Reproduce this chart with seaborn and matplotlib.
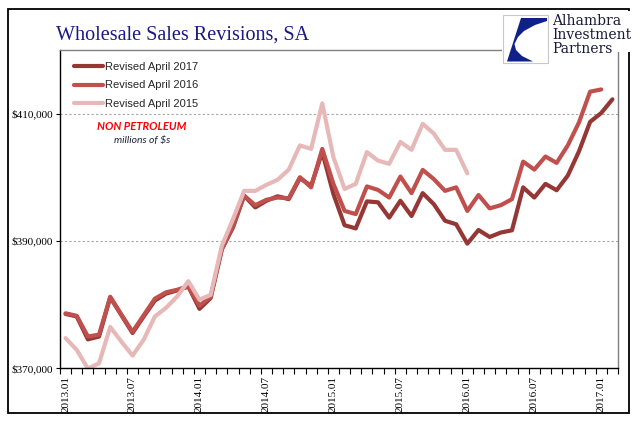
import pandas as pd
import matplotlib
matplotlib.use("Agg")
import matplotlib.pyplot as plt
import seaborn as sns
from matplotlib.patches import Rectangle, Polygon
from matplotlib.ticker import FuncFormatter

# -------------------------------
# data (millions of $, non petroleum)
# -------------------------------
months = [f"{y}.{m:02d}" for y in range(2013, 2018) for m in range(1, 13)][:50]

rev_2017 = [378500, 378100, 374500, 374950, 381100, 378300, 375500, 378100, 380600, 381700,
            382200, 382800, 379300, 381000, 388650, 392100, 397100, 395250, 396300, 397000,
            396550, 399850, 398650, 403950, 397350, 392450, 391950, 396200, 396050, 393650,
            396300, 393900, 397500, 395750, 393150, 392600, 389550, 391700, 390600, 391300,
            391650, 398400, 396800, 398950, 397950, 400250, 404050, 408700, 410100, 412250]

rev_2016 = [378600, 378200, 374950, 375250, 381200, 378400, 375700, 378300, 380900, 381900,
            382300, 382850, 379800, 381200, 388700, 392350, 397100, 395600, 396450, 396800,
            396700, 400000, 398400, 404450, 398950, 394700, 394200, 398550, 398000, 396800,
            400100, 397500, 401150, 399700, 397850, 398400, 394700, 397200, 395100, 395600,
            396550, 402450, 401200, 403250, 402250, 405000, 408600, 413450, 413800, None]

rev_2015 = [374700, 372850, 369900, 370750, 376450, 374150, 371950, 374450, 378100, 379450,
            381250, 383650, 380750, 381500, 389200, 393400, 397850, 397850, 398800, 399600,
            401200, 405000, 404450, 411600, 403150, 398150, 398950, 403950, 402600, 402100,
            405550, 404300, 408400, 406850, 404300, 404300, 400600] + [None] * 13

series_names = ["Revised April 2017", "Revised April 2016", "Revised April 2015"]
colors = ["#953735", "#C0504D", "#E6B9B8"]

tick_labels = ["2013.01", "2013.07", "2014.01", "2014.07", "2015.01",
               "2015.07", "2016.01", "2016.07", "2017.01"]

df = pd.DataFrame({"month": months,
                   series_names[0]: rev_2017,
                   series_names[1]: rev_2016,
                   series_names[2]: rev_2015})
long = df.melt(id_vars="month", var_name="series", value_name="sales").dropna()
long["pos"] = long["month"].map({m: i for i, m in enumerate(months)})
long["sales"] = long["sales"].astype(float)

sns.set_style("white")
plt.rcParams["font.family"] = ["Liberation Serif", "DejaVu Serif"]

W, H = 641, 421
fig = plt.figure(figsize=(W / 100, H / 100), dpi=100)
ax = fig.add_axes([60 / W, 1 - 368 / H, 558 / W, 318 / H])

sns.lineplot(data=long, x="pos", y="sales", hue="series", hue_order=series_names,
             palette=colors, linewidth=3, errorbar=None, ax=ax,
             solid_capstyle="round", solid_joinstyle="round")

ax.set_xlim(-0.5, 49.5)
ax.set_ylim(370000, 420000)
ax.set_xlabel("")
ax.set_ylabel("")

# y axis
ax.set_yticks([370000, 390000, 410000])
ax.yaxis.set_major_formatter(FuncFormatter(lambda v, p: f"${v:,.0f}"))
ax.tick_params(axis="y", direction="out", length=3, width=0.8, pad=2,
               labelsize=8, colors="black", left=True)
ax.yaxis.grid(True, linestyle=(0, (2, 2)), color="#a6a6a6", linewidth=0.8)
ax.xaxis.grid(False)

# x axis: labels at every 6th month, ticks between categories
ax.set_xticks([months.index(t) for t in tick_labels])
ax.set_xticklabels(tick_labels, rotation=90)
ax.set_xticks([i - 0.5 for i in range(51)], minor=True)
ax.tick_params(axis="x", which="major", length=0, pad=6, labelsize=8, colors="black")
ax.tick_params(axis="x", which="minor", direction="out", length=4, width=0.8,
               color="black", bottom=True)

for s in ["left", "bottom"]:
    ax.spines[s].set_color("black")
    ax.spines[s].set_linewidth(1)
for s in ["top", "right"]:
    ax.spines[s].set_color("#808080")
    ax.spines[s].set_linewidth(1)

handles, labels = ax.get_legend_handles_labels()
ax.legend(handles, labels, loc="upper left", bbox_to_anchor=(0.025, 0.963),
          frameon=False, handlelength=2.6, handletextpad=0.2, labelspacing=0.78,
          borderaxespad=0, borderpad=0,
          prop={"family": "Liberation Sans", "size": 8})

# -------------------------------
# overlay in pixel coordinates: frame, title, notes, logo
# -------------------------------
ov = fig.add_axes([0, 0, 1, 1])
ov.set_xlim(0, W)
ov.set_ylim(H, 0)
ov.axis("off")

ov.add_patch(Rectangle((8, 9), 621, 404, fill=False, edgecolor="black", linewidth=1.3))

ov.text(56, 40, "Wholesale Sales Revisions, SA", fontsize=14.5, color="#1a1a80",
        family="Liberation Serif", va="baseline", ha="left")

ov.text(142, 127, "NON PETROLEUM", fontsize=8, color="#ff0000", fontweight="bold",
        fontstyle="italic", family="Lato", ha="center", va="center")
ov.text(142, 141, "millions of $s", fontsize=7.5, color="#1f1f3f",
        fontstyle="italic", family="Lato", ha="center", va="center")

# logo
ov.add_patch(Rectangle((502, 11), 138, 41, facecolor="white", edgecolor="none"))
ov.add_patch(Rectangle((503, 15), 45, 48, facecolor="white", edgecolor="#c8c8c8", linewidth=0.8))
ov.add_patch(Polygon([(521, 18), (547, 18), (547, 21), (535, 25), (524, 31), (518, 37),
                      (514.5, 44), (516, 50), (522, 56), (533, 61.5), (507, 61.5)],
                     closed=True, facecolor="#10208a", edgecolor="none"))
for txt, yy in [("Alhambra", 25), ("Investment", 39), ("Partners", 53)]:
    ov.text(552, yy, txt, fontsize=10, color="#1a1a3a", family="DejaVu Serif",
            va="baseline", ha="left")

fig.savefig("out.png", dpi=100)
